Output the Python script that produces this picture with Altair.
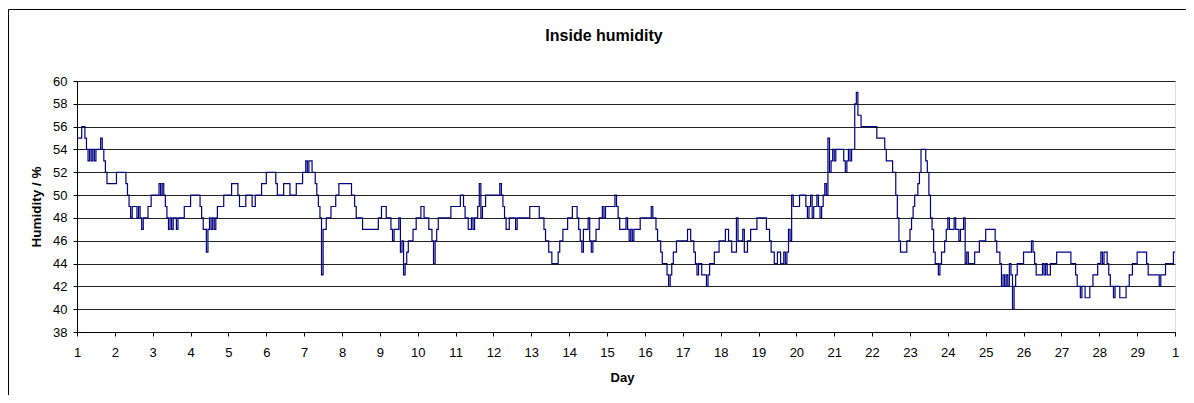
import altair as alt
import pandas as pd

# Hour (from start of day 1) at which the reading changes, and the new reading (%)
hours_a = [0, 3, 5, 6, 7, 8, 9, 10, 11, 12, 15, 16, 17, 18, 19, 25, 31, 32, 33, 34, 35, 38, 39, 40, 41, 42, 45, 47,
           52, 53, 54, 55, 56, 57, 58, 59, 60, 61, 63, 64, 68, 72, 78, 79, 80, 82, 83, 84, 85, 86, 87, 88, 89, 93,
           98, 102, 103, 107, 111, 113, 117, 120, 126, 127, 131, 135, 139, 143, 145, 146, 147, 149, 151, 152, 153,
           154, 155, 156, 158, 161, 164, 166, 174, 176, 177, 181, 191, 193, 196, 199, 200, 201, 204, 205, 206, 207,
           208, 209, 210, 213, 215, 218, 220, 223, 225, 226, 227, 228, 229]
hum_a = [55, 56, 55, 54, 53, 54, 53, 54, 53, 54, 55, 54, 53, 52, 51, 52, 51, 50, 49, 48, 49, 48, 49, 48, 47, 48, 49, 50,
         51, 50, 51, 50, 49, 48, 47, 48, 47, 48, 47, 48, 49, 50, 49, 48, 47, 45, 47, 48, 47, 48, 47, 48, 49, 50,
         51, 50, 49, 50, 49, 50, 51, 52, 51, 50, 51, 50, 51, 52, 53, 52, 53, 52, 51, 50, 49,
         48, 43, 47, 48, 49, 50, 51, 50, 49, 48, 47, 48, 49, 48, 47, 46, 47, 48, 45, 46, 43,
         44, 45, 46, 47, 48, 49, 48, 47, 46, 44, 46, 47, 48]

hours_b = [237, 243, 245, 246, 248, 250, 251, 252, 254, 255, 256, 257, 259, 268, 269, 270, 271, 272, 274, 278, 279,
           287, 293, 296, 297, 299, 301, 305, 306, 308, 311, 314, 317, 318, 319, 320, 321, 324, 325, 326, 327, 329,
           331, 333, 334, 335, 341, 342, 343, 344, 348, 349, 350, 351, 352, 353, 357, 364, 365, 367, 368, 370, 371,
           374, 375, 376, 377, 378, 380, 387, 389, 391, 392, 393, 394, 396, 399, 400, 401, 404, 407, 411, 413, 415,
           418, 419, 422, 423, 425, 427, 431, 437, 439, 440, 442, 444, 446, 448, 449, 450, 451, 452]
hum_b = [49, 50, 49, 48, 47, 48, 47, 48, 49, 51, 48, 49, 50, 51, 50, 49, 48, 47, 48, 47, 48,
         49, 48, 47, 46, 45, 44, 45, 46, 47, 48, 49, 48, 47, 46, 45, 47, 48, 46, 45, 46, 47,
         48, 49, 48, 49, 50, 49, 48, 47, 48, 47, 46, 47, 46, 47, 48, 49, 48, 47, 46, 45, 44,
         43, 42, 43, 44, 45, 46, 47, 46, 45, 44, 43, 44, 43, 42, 43, 44, 45, 46, 47, 46, 45,
         48, 46, 47, 45, 46, 47, 48, 47, 46, 45, 44, 45, 44, 45, 44, 45, 47, 46]

hours_c = [453, 454, 458, 462, 463, 464, 465, 466, 467, 469, 470, 471, 472, 473, 474, 475, 476, 477, 478, 479, 480,
           481, 486, 487, 488, 489, 490, 491, 493, 494, 495, 497, 507, 512, 513, 517, 519, 520, 521, 522, 526, 528,
           529, 530, 531, 533, 534, 535, 538, 539, 540, 541, 542, 543, 544, 546, 547, 548, 550, 551, 552, 553, 556,
           557, 559, 560, 562, 563, 564, 565, 569, 572]
hum_c = [50, 49, 50, 49, 48, 49, 50, 48, 49, 50, 49, 48, 49, 50, 51, 50, 55, 52, 53, 54, 53,
         54, 53, 52, 53, 54, 53, 54, 58, 59, 57, 56, 55, 54, 53, 52, 50, 48, 46, 45, 46, 47,
         48, 49, 50, 51, 52, 54, 53, 52, 50, 48, 47, 45, 44, 43, 44, 45, 46, 47, 48, 47, 48,
         47, 46, 47, 48, 44, 45, 44, 45, 46]

hours_d = [576, 582, 583, 585, 586, 587, 588, 589, 590, 591, 592, 593, 594, 595, 596, 600, 605, 606, 607, 608, 612,
           613, 614, 615, 617, 621, 630, 633, 634, 636, 637, 639, 642, 644, 647, 649, 650, 651, 653, 654, 655, 657,
           658, 661, 665, 667, 669, 672, 678, 679, 686, 687, 690, 695, 696]
hum_d = [47, 46, 45, 44, 42, 43, 42, 43, 42, 44, 43, 40, 42, 43, 44, 45, 46, 45, 44, 43, 44,
         43, 44, 43, 44, 45, 44, 43, 42, 41, 42, 41, 42, 43, 44, 45, 44, 45, 44, 43, 42, 41,
         42, 41, 42, 43, 44, 45, 44, 43, 42, 43, 44, 45, 45]

day_ticks = list(range(1, 31))
humidity_ticks = list(range(38, 61, 2))

df = pd.DataFrame({
    "hour": hours_a + hours_b + hours_c + hours_d,
    "humidity": hum_a + hum_b + hum_c + hum_d,
})
df["day"] = 1 + df["hour"] / 24

FONT = "Liberation Sans"
W, H = 1098, 251

line = alt.Chart(df).mark_line(
    color="#000080", strokeWidth=1.2, interpolate="step-after"
).encode(
    x=alt.X("day:Q",
            scale=alt.Scale(domain=[1, 30], nice=False, zero=False),
            axis=alt.Axis(values=day_ticks,
                          labelExpr="datum.value == 30 ? '1' : datum.label",
                          title="Day", grid=False,
                          domainColor="#000000", tickColor="#000000", tickSize=4,
                          labelFont=FONT, labelFontSize=13, labelColor="#000000",
                          labelPadding=10, labelFlush=False,
                          titleFont=FONT, titleFontSize=13, titleFontWeight="bold",
                          titleColor="#000000", titleX=545, titleY=45,
                          titleBaseline="middle", titleAlign="center")),
    y=alt.Y("humidity:Q",
            scale=alt.Scale(domain=[38, 60], nice=False, zero=False),
            axis=alt.Axis(values=humidity_ticks, title="Humidity / %", grid=True,
                          gridColor="#222222", gridWidth=1, gridOpacity=1,
                          domainColor="#000000", tickColor="#000000", tickSize=4,
                          labelFont=FONT, labelFontSize=13, labelColor="#000000",
                          labelPadding=6, labelFlush=False,
                          titleFont=FONT, titleFontSize=13.5, titleFontWeight="bold",
                          titleColor="#000000", titleX=-41, titleY=125.5,
                          titleAngle=-90, titleBaseline="middle", titleAlign="center")),
)

one = pd.DataFrame({"k": [0]})
frame_left = alt.Chart(one).mark_rule(color="#000000", strokeWidth=1).encode(
    x=alt.value(-68.5), y=alt.value(-71.5), y2=alt.value(330))
frame_top = alt.Chart(one).mark_rule(color="#000000", strokeWidth=1).encode(
    x=alt.value(-68.5), x2=alt.value(1120), y=alt.value(-71.5))
title = alt.Chart(one).mark_text(
    text="Inside humidity", font=FONT, fontSize=16, fontWeight="bold",
    color="#000000", align="center", baseline="middle"
).encode(x=alt.value(527), y=alt.value(-45))

chart = alt.layer(line, frame_left, frame_top, title).properties(
    width=W, height=H,
    padding={"left": 69, "top": 73, "right": 11, "bottom": 63},
    autosize=alt.AutoSizeParams(type="none"),
).configure_view(stroke="#808080", strokeWidth=1).configure(background="#ffffff")

chart.save("out.html", embed_options={"renderer": "svg", "actions": False})
